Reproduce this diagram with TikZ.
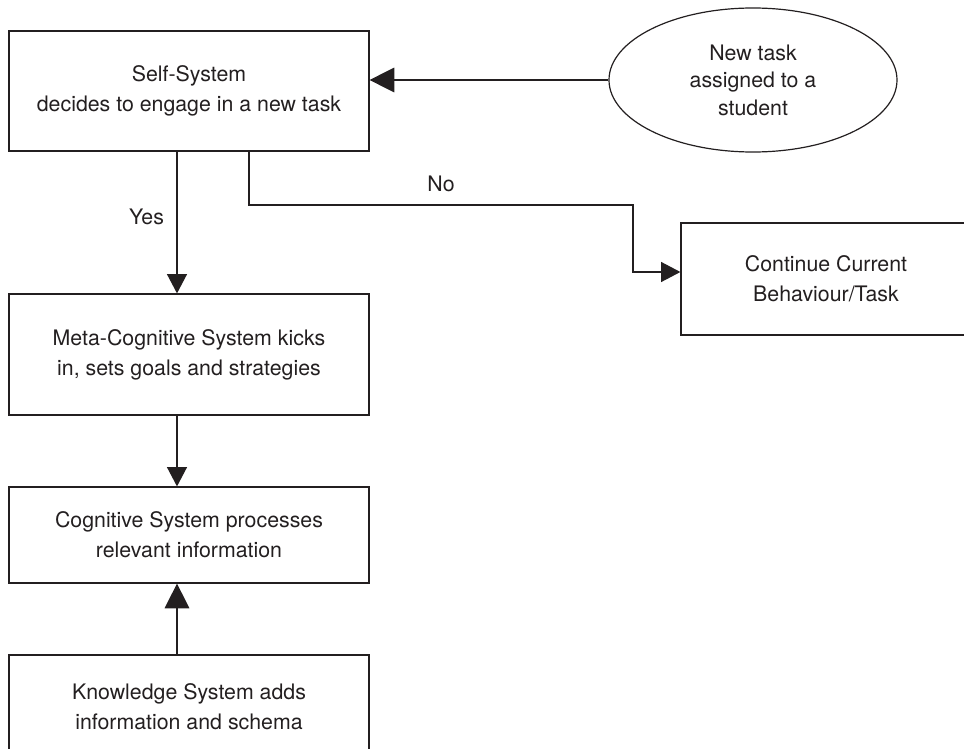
\documentclass[tikz,border=0pt]{standalone}
\usepackage{fontspec}
\setmainfont{TeX Gyre Heros}
\usetikzlibrary{calc}
\usetikzlibrary{arrows.meta}
\usetikzlibrary{shapes.geometric}
\definecolor{ink}{HTML}{231F20}

\begin{document}
\begin{tikzpicture}[x=0.75pt, y=-0.75pt,
  every node/.style={text=ink, font=\fontsize{16}{22.5}\selectfont},
  box/.style={draw=ink, line width=0.9pt, align=center, inner sep=0pt, minimum width=270pt},
  link/.style={draw=ink, line width=0.9pt, -{Triangle[length=14.5pt, width=15pt]}},
  biglink/.style={draw=ink, line width=0.9pt, -{Triangle[length=18.5pt, width=18.5pt]}}]
\useasboundingbox (0,0) rectangle (964,749);
\clip (0,0) rectangle (964,749);
% boxes
\node[box, minimum height=90pt] (self) at (189,91) {Self-System\\decides to engage in a new task};
\node[box, ellipse, minimum width=216pt, minimum height=108pt, font=\fontsize{16}{20.6}\selectfont] (task) at (753,80) {New task\\assigned to a\\student};
\node[box, minimum width=217.5pt, minimum height=84pt] (cont) at (826,279) {Continue Current\\Behaviour/Task};
\node[box, minimum height=90.75pt] (meta) at (189,354.5) {Meta-Cognitive System kicks\\in, sets goals and strategies};
\node[box, minimum height=72pt] (cog) at (189,535) {Cognitive System processes\\relevant information};
\node[box, minimum height=78pt] (know) at (189,707) {Knowledge System adds\\information and schema};
% connectors
\draw[biglink] (task.west) -- (task.west -| self.east);
\draw[link] ($(self.south)+(-12,0)$) -- node[left, xshift=-6pt, yshift=4pt] {Yes} ($(meta.north)+(-12,0)$);
\coordinate (turn) at (633,205);
\draw[link] ($(self.south)+(60,0)$) |- node[pos=0.75, above, yshift=6pt] {No} (turn) |- ($(cont.west)+(0,-7)$);
\draw[link] ($(meta.south)+(-12,0)$) -- ($(cog.north)+(-12,0)$);
\draw[biglink] ($(know.north)+(-12,0)$) -- ($(cog.south)+(-12,0)$);
\end{tikzpicture}
\end{document}
